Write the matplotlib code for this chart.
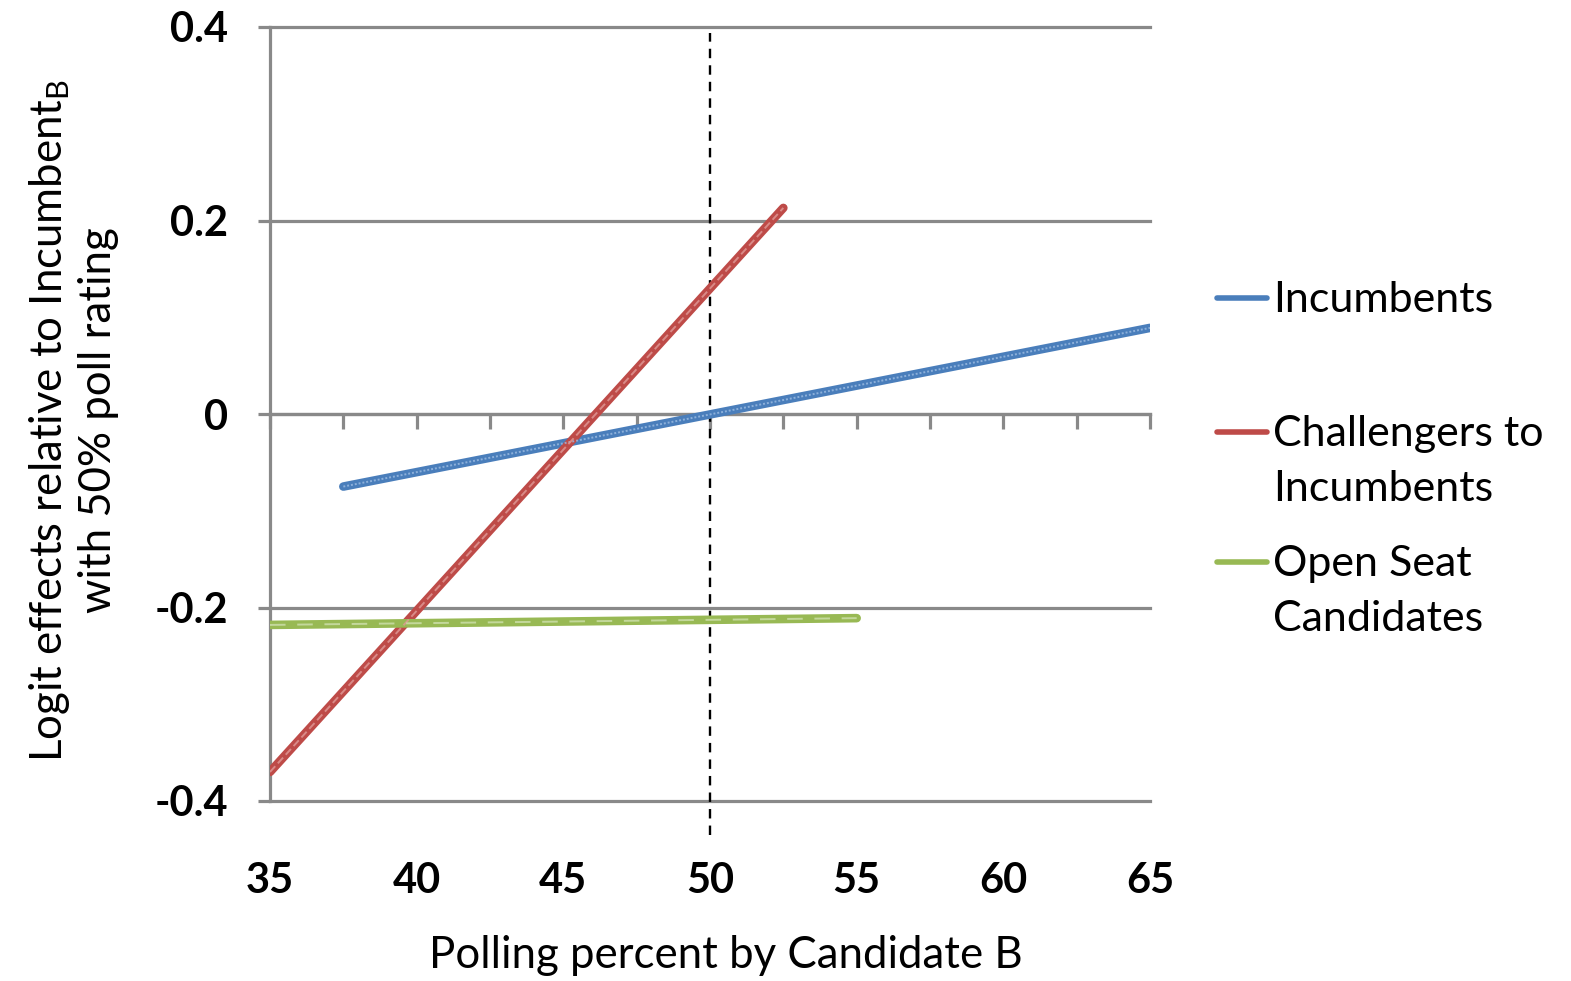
#%% Librerías
import numpy as np
import matplotlib.pyplot as plt
from matplotlib.lines import Line2D
from matplotlib.ticker import MultipleLocator

plt.rcParams['font.family'] = ['Lato', 'DejaVu Sans']
plt.rcParams['mathtext.fontset'] = 'custom'
plt.rcParams['mathtext.rm'] = 'Lato'

#%% Datos
labels = ['Incumbents', 'Challengers to\nIncumbents', 'Open Seat\nCandidates']
x_inc = [37.5, 65]
y_inc = [-0.075, 0.089]
x_chal = [35, 52.5]
y_chal = [-0.370, 0.213]
x_open = [35, 55]
y_open = [-0.218, -0.211]

x_ticks = [35, 40, 45, 50, 55, 60, 65]
y_ticks = [-0.4, -0.2, 0, 0.2, 0.4]
y_ticklabels = ['-0.4', '-0.2', '0', '0.2', '0.4']

colors = ['#4A7EBB', '#BE4B48', '#98B954']
light = ['#9DBDE3', '#E09A97', '#CFE0AE']
grey = '#898989'

#%% Figura
W, H = 1571, 981
fig = plt.figure(figsize=(W / 100, H / 100), dpi=100)
ax = fig.add_axes([270 / W, 1 - 801 / H, 880 / W, 774 / H])
ax.set_xlim(35, 65)
ax.set_ylim(-0.4, 0.4)

# rejilla y eje y
ax.set_yticks(y_ticks)
ax.set_yticklabels(y_ticklabels)
ax.yaxis.grid(True, color=grey, lw=2.3)
for gl in ax.get_ygridlines():
    gl.set_clip_on(False)
ax.set_axisbelow(True)
ax.tick_params(axis='y', length=9, width=2.3, color=grey, pad=21,
               labelsize=30)
for t in ax.get_yticklabels():
    t.set_fontweight('bold')

for s in ['top', 'right']:
    ax.spines[s].set_visible(False)
ax.spines['left'].set_color(grey)
ax.spines['left'].set_linewidth(2.3)

# eje x sobre y=0, marcas cada 2.5
ax.spines['bottom'].set_position(('data', 0))
ax.spines['bottom'].set_color(grey)
ax.spines['bottom'].set_linewidth(2.3)
ax.set_xticks(x_ticks)
ax.xaxis.set_minor_locator(MultipleLocator(2.5))
ax.tick_params(axis='x', which='both', direction='out', length=11,
               width=2.3, color=grey, labelbottom=False)

sec = ax.secondary_xaxis(0.0)
sec.set_xticks(x_ticks)
sec.tick_params(length=0, pad=44, labelsize=30)
sec.spines['bottom'].set_visible(False)
for t in sec.get_xticklabels():
    t.set_fontweight('bold')

# línea vertical en 50%
ax.axvline(50, ymin=-0.044, ymax=0.992, color='black', lw=1.7,
           ls=(0, (4, 3)), clip_on=False, zorder=1)

#%% Series
series = [(x_inc, y_inc), (x_chal, y_chal), (x_open, y_open)]
overlay = [(0, (1, 1)), (0, (4, 2)), (0, (8, 6))]
for (xs, ys), c, lc, ls in zip(series, colors, light, overlay):
    ax.plot(xs, ys, color=c, lw=6.2, solid_capstyle='round', zorder=3)
    ax.plot(xs, ys, color=lc, lw=1.4, ls=ls, zorder=4, alpha=0.8)

#%% Leyenda manual
leg_y = [298, 432, 562]
for lab, c, yp in zip(labels, colors, leg_y):
    fig.add_artist(Line2D([1217 / W, 1267 / W], [1 - yp / H, 1 - yp / H],
                          transform=fig.transFigure, color=c, lw=4,
                          solid_capstyle='round'))
    fig.text(1273 / W, 1 - (yp - 17) / H, lab, fontsize=31, va='top',
             ha='left', linespacing=1.56)

#%% Títulos de ejes
fig.text(726 / W, 1 - 955 / H, 'Polling percent by Candidate B',
         fontsize=31.5, ha='center', va='center')
fig.text(73 / W, 1 - 420 / H,
         'Logit effects relative to Incumbent$_\\mathrm{B}$\nwith 50% poll rating',
         fontsize=31.5, ha='center', va='center', rotation=90,
         multialignment='center', linespacing=1.2)

fig.savefig('out.png', dpi=100)
